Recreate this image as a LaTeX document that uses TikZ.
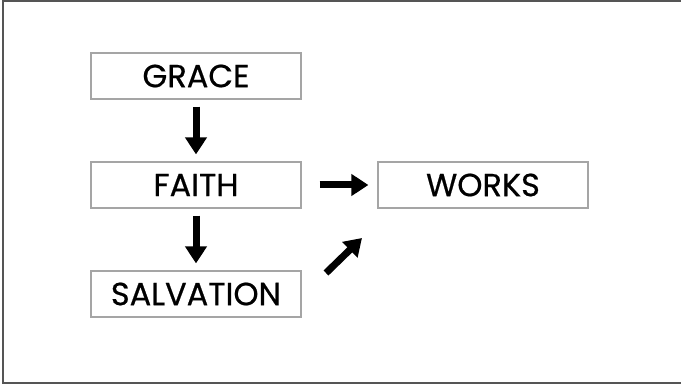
\documentclass[tikz,border=0pt]{standalone}
\usepackage{fontspec}
\setmainfont{Poppins}
\newfontfamily\labelfont[FakeBold=0.6]{Poppins}
\usetikzlibrary{arrows.meta,calc,positioning}
\definecolor{boxgray}{RGB}{165,165,165}
\definecolor{framegray}{RGB}{85,85,85}
\tikzset{%
	stage/.style  = {draw=boxgray, line width=1.2pt, rectangle, minimum width=210pt, minimum height=46pt, inner sep=0pt, font=\labelfont\fontsize{32}{32}\selectfont}, % Box
	bigarrow/.style = {line width=7pt, -{Triangle[length=17pt,width=21pt]}}, % Arrow
}
\begin{document}
\begin{tikzpicture}[x=1pt,y=-1pt]
		\useasboundingbox (0,0) rectangle (681,385);
		\draw[framegray, line width=2pt] (690,1) -- (3,1) -- (3,383) -- (690,383);
		\node[stage] (grace) at (196,76) {GRACE};
		\node[stage] (faith) at (196,185) {FAITH};
		\node[stage] (salvation) at (196,294) {SALVATION};
		\node[stage] (works) at (483,185) {WORKS};
		\coordinate (d1) at (326,273);
		\coordinate (d2) at (362,238);
		\draw[bigarrow, shorten <=7pt, shorten >=7pt] (grace) -- (faith);
		\draw[bigarrow, shorten <=7pt, shorten >=7pt] (faith) -- (salvation);
		\draw[bigarrow, shorten <=18pt, shorten >=9pt] (faith) -- (works);
		\draw[bigarrow] (d1) -- (d2);
\end{tikzpicture}
\end{document}
